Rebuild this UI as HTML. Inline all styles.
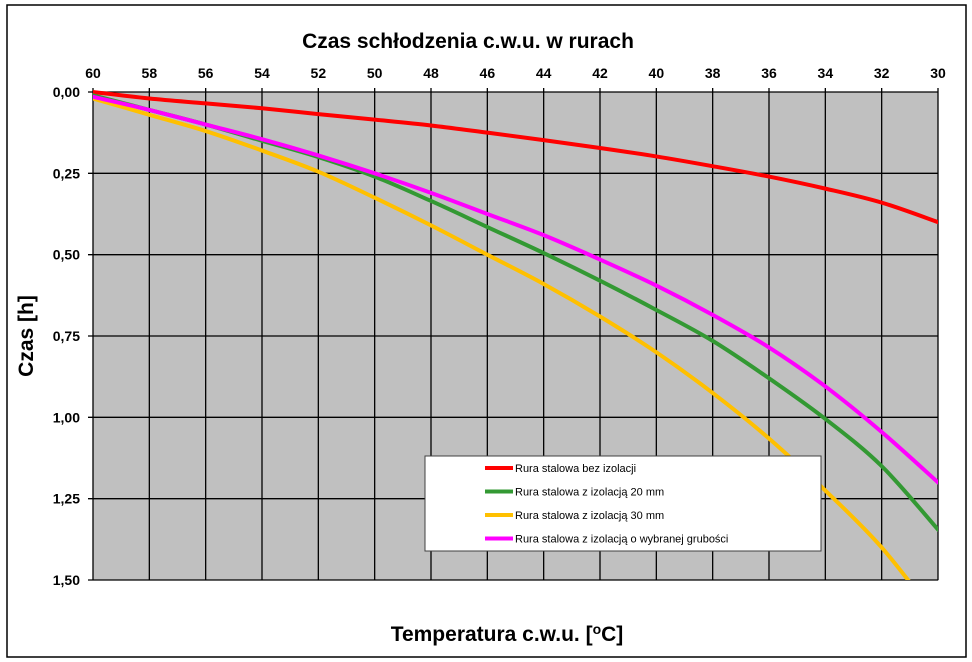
<!DOCTYPE html>
<html><head><meta charset="utf-8"><style>
body{margin:0;background:#fff;}
svg{display:block;font-family:"Liberation Sans",sans-serif;}
</style></head><body>
<svg width="972" height="662">
<rect x="7" y="5" width="959" height="652" fill="#fff" stroke="#000" stroke-width="1.5"/>
<text x="468" y="48" font-size="21" font-weight="bold" text-anchor="middle">Czas schłodzenia c.w.u. w rurach</text>
<rect x="93" y="92" width="845" height="488" fill="#c0c0c0" stroke="#808080"/>
<g id="grid"></g>
<g id="axes"></g>
<g id="series" clip-path="url(#clip)"></g>
<defs><clipPath id="clip"><rect x="93" y="88" width="845" height="492"/></clipPath></defs>
<text transform="translate(33,336) rotate(-90)" font-size="21" font-weight="bold" text-anchor="middle">Czas  [h]</text>
<text x="507" y="641" font-size="21" font-weight="bold" text-anchor="middle">Temperatura c.w.u. [<tspan font-size="14" dy="-7">o</tspan><tspan dy="7">C]</tspan></text>
<g>
<rect x="425" y="456" width="396" height="95" fill="#fff" stroke="#404040"/>
<g id="legend"></g>
</g>
</svg>
<script>
const temps=[60,58,56,54,52,50,48,46,44,42,40,38,36,34,32,30];
const serRed=[0,0.02,0.035,0.05,0.068,0.085,0.103,0.125,0.148,0.172,0.198,0.228,0.26,0.297,0.34,0.4];
const serGreen=[0.01,0.055,0.1,0.15,0.2,0.26,0.335,0.415,0.495,0.58,0.67,0.765,0.88,1.005,1.15,1.345];
const serOrange=[0.02,0.07,0.12,0.18,0.245,0.325,0.41,0.5,0.59,0.69,0.8,0.925,1.065,1.225,1.4,1.62];
const serPink=[0.015,0.055,0.1,0.145,0.195,0.25,0.31,0.375,0.44,0.515,0.595,0.685,0.785,0.905,1.045,1.2];
const xTicks=[60,58,56,54,52,50,48,46,44,42,40,38,36,34,32,30];
const yTicks=[0,0.25,0.5,0.75,1,1.25,1.5];
const seriesNames=["Rura stalowa bez izolacji","Rura stalowa z  izolacją 20 mm","Rura stalowa z  izolacją 30 mm","Rura stalowa z izolacją o wybranej grubości"];
const NS="http://www.w3.org/2000/svg";
const X0=93,X1=938,Y0=92,Y1=580;
function X(t){return X0+(60-t)*(X1-X0)/30;}
function Y(v){return Y0+v*(Y1-Y0)/1.5;}
function mk(tag,attrs,parent){const e=document.createElementNS(NS,tag);for(const k in attrs)e.setAttribute(k,attrs[k]);parent.appendChild(e);return e;}
const grid=document.getElementById('grid'),axes=document.getElementById('axes');
xTicks.forEach(t=>{
 const l=mk('line',{x1:X(t),x2:X(t),y1:Y0-4,y2:Y1,stroke:'#000','stroke-width':1.3},grid);
 
 
 const tx=mk('text',{x:X(t),y:78,'font-size':14,'font-weight':'bold','text-anchor':'middle'},axes);
 tx.textContent=t;
 
 
});
yTicks.forEach(v=>{
 const l=mk('line',{x1:X0-5,x2:X1,y1:Y(v),y2:Y(v),stroke:'#000','stroke-width':1.3},grid);
 
 
 const tx=mk('text',{x:80,y:Y(v)+5,'font-size':14,'font-weight':'bold','text-anchor':'end'},axes);
 tx.textContent=v.toFixed(2).replace('.',',');
 
 
});
function pathFor(vals){
 const p=temps.map((t,i)=>[X(t),Y(vals[i])]);
 let d='M'+p[0][0]+','+p[0][1];
 for(let i=0;i<p.length-1;i++){
  const a=p[Math.max(0,i-1)],b=p[i],c=p[i+1],e=p[Math.min(p.length-1,i+2)];
  const c1=[b[0]+(c[0]-a[0])/6,b[1]+(c[1]-a[1])/6],c2=[c[0]-(e[0]-b[0])/6,c[1]-(e[1]-b[1])/6];
  d+=' C'+c1+' '+c2+' '+c;
 }
 return d;
}
const colors=['#ff0000','#339933','#ffc000','#ff00ff'];
const sg=document.getElementById('series');
[serRed,serGreen,serOrange,serPink].forEach((s,i)=>{
 const p=mk('path',{d:pathFor(s),fill:'none',stroke:colors[i],'stroke-width':4,'stroke-linecap':'round'},sg);
 
 
});
const lg=document.getElementById('legend');
seriesNames.forEach((n,i)=>{
 const y=468+i*23.5;
 const l=mk('line',{x1:485,x2:513,y1:y,y2:y,stroke:colors[i],'stroke-width':4},lg);
 
 
 const t=mk('text',{x:515,y:y+4,'font-size':11},lg);
 t.textContent=n;
 
 
});
</script>
</body></html>
